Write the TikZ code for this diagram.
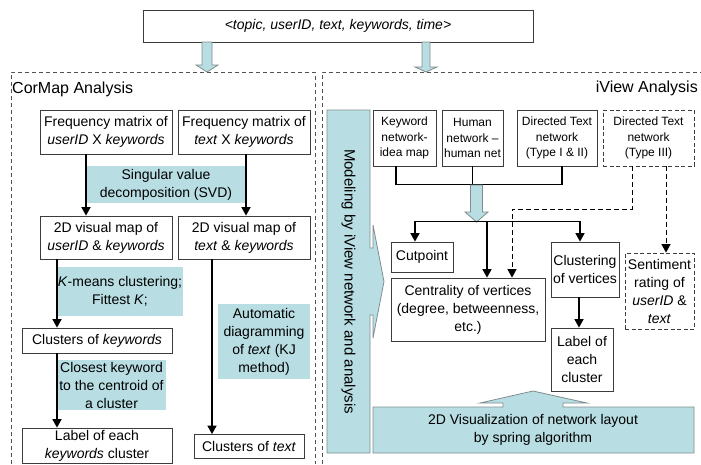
\documentclass[tikz,border=0pt]{standalone}
\usepackage{fontspec}
\setmainfont{Liberation Sans}
\usetikzlibrary{arrows.meta,calc}
\definecolor{teal1}{RGB}{184,222,227}
\definecolor{tealedge}{RGB}{128,140,142}
\definecolor{boxedge}{RGB}{60,60,60}
\definecolor{paneledge}{RGB}{80,80,80}
\newcommand\fsz[2]{\fontsize{#1}{#2}\selectfont}
\begin{document}
\begin{tikzpicture}[x=1pt,y=-1pt,
  box/.style={draw=boxedge, line width=0.8pt, fill=white, align=center, inner sep=0pt, font=\fsz{14}{18}},
  sbox/.style={box, font=\fsz{12}{15.5}},
  dbox/.style={draw=boxedge, line width=0.8pt, dash pattern=on 4pt off 2.5pt, fill=white, align=center, inner sep=0pt},
  lbl/.style={fill=teal1, align=center, inner sep=0pt, font=\fsz{14}{18}},
  conn/.style={line width=1.6pt, -{Triangle[length=8.5pt,width=9pt]}},
  bus/.style={line width=1.6pt},
  dconn/.style={line width=1pt, dash pattern=on 5pt off 3pt, -{Triangle[length=8.5pt,width=9pt]}},
  blk/.style={fill=teal1, draw=tealedge, line width=0.8pt, line join=miter},
  panel/.style={draw=paneledge, line width=0.8pt, dash pattern=on 4pt off 3pt}]
\useasboundingbox (0,0) rectangle (701,464);

% panels
\draw[panel] (11,464) -- (11,72) -- (315,72) -- (315,464);
\draw[panel] (322,464) -- (322,72) -- (703,72);
\node[anchor=west, inner sep=0pt, font=\fsz{16}{19}] (cmt) at (12,89) {CorMap Analysis};
\node[anchor=east, inner sep=0pt, font=\fsz{16}{19}] (ivt) at (698,88) {iView Analysis};

% top
\node[box, minimum width=390pt, minimum height=32pt, font=\itshape\fsz{14}{17}] (top) at (338,26) {<topic, userID, text, keywords, time>};
\draw[blk] (202,42) -- (212,42) -- (212,65) -- (218,65) -- (207,72) -- (196,65) -- (202,65) -- cycle;
\draw[blk] (422,42) -- (430,42) -- (430,67) -- (437,67) -- (426,72) -- (415,67) -- (422,67) -- cycle;

% left labels
\node[lbl, minimum width=158pt, minimum height=37pt] (svd) at (166,184.5) {Singular value\\decomposition (SVD)};
\node[lbl, minimum width=126pt, minimum height=49pt] (km) at (120,291.5) {\textit{K}-means clustering;\\Fittest \textit{K};};
\node[lbl, minimum width=109pt, minimum height=50pt] (cl) at (111.5,385) {Closest keyword\\to the centroid of\\a cluster};
\node[lbl, minimum width=92pt, minimum height=75pt] (au) at (264,341.5) {Automatic\\diagramming\\of \textit{text} (KJ\\method)};

% left boxes
\node[box, minimum width=132pt, minimum height=44pt] (A) at (106,132) {Frequency matrix of\\\textit{userID} X \textit{keywords}};
\node[box, minimum width=132pt, minimum height=44pt] (B) at (244,132) {Frequency matrix of\\\textit{text} X \textit{keywords}};
\node[box, minimum width=132pt, minimum height=43pt] (C) at (106,237.5) {2D visual map of\\\textit{userID} \& \textit{keywords}};
\node[box, minimum width=132pt, minimum height=43pt] (D) at (244,237.5) {2D visual map of\\\textit{text} \& \textit{keywords}};
\node[box, minimum width=150pt, minimum height=25pt] (E) at (97,340.5) {Clusters of \textit{keywords}};
\node[box, minimum width=150pt, minimum height=35pt] (F) at (97,445.5) {Label of each\\\textit{keywords} cluster};
\node[box, minimum width=110pt, minimum height=24pt] (G) at (249,446.5) {Clusters of \textit{text}};

\draw[conn] ($(A.south)+(-20,0)$) -- ($(C.north)+(-20,0)$);
\draw[conn] ($(B.south)+(2,0)$) -- ($(D.north)+(2,0)$);
\draw[conn] ($(C.south)+(-49,0)$) -- ($(E.north)+(-40,0)$);
\draw[conn] ($(E.south)+(-40,0)$) -- ($(F.north)+(-40,0)$);
\draw[conn] ($(D.south)+(-32,0)$) -- ($(G.north)+(-37,0)$);

% right callouts
\draw[blk] (327,110) -- (370,110) -- (370,248) -- (373,248) -- (373,225) -- (384,281.5) -- (373,338) -- (373,315) -- (370,315) -- (370,453) -- (327,453) -- cycle;
\node[rotate=-90, inner sep=0pt, font=\fsz{15}{18}] (mod) at (348.5,281.5) {Modeling by iView network and analysis};
\draw[blk] (373,453) -- (373,407) -- (503,407) -- (503,403) -- (480,403) -- (533,391) -- (587,403) -- (563,403) -- (563,407) -- (694,407) -- (694,453) -- cycle;
\node[align=center, inner sep=0pt, font=\fsz{14}{18}] (viz) at (533,430) {2D Visualization of network layout\\by spring algorithm};

% right boxes
\node[sbox, minimum width=63pt, minimum height=56pt] (kw) at (404.5,138) {Keyword\\network-\\idea map};
\node[sbox, minimum width=61pt, minimum height=56pt] (hu) at (472.5,138) {Human\\network –\\human net};
\node[sbox, minimum width=80pt, minimum height=56pt] (d12) at (557,138) {Directed Text\\network\\(Type I \& II)};
\node[dbox, font=\fsz{12}{15.5}, minimum width=91pt, minimum height=56pt] (d3) at (648.5,138) {Directed Text\\network\\(Type III)};
\node[box, minimum width=62pt, minimum height=30pt] (cut) at (422,257) {Cutpoint};
\node[box, minimum width=154pt, minimum height=63pt] (cen) at (468,309.5) {Centrality of vertices\\(degree, betweenness,\\etc.)};
\node[box, minimum width=68pt, minimum height=55pt] (clu) at (585,269.5) {Clustering\\of vertices};
\node[box, minimum width=62pt, minimum height=63pt] (lab) at (582,359.5) {Label of\\each\\cluster};
\node[dbox, font=\fsz{14}{18}, minimum width=69pt, minimum height=76pt] (sen) at (659.5,291) {Sentiment\\rating of\\\textit{userID} \&\\\textit{text}};

% upper bus
\draw[bus] ($(kw.south)+(-8.5,0)$) |- ($(d12.south)+(5,18)$) -- ($(d12.south)+(5,0)$);
\draw[bus] (hu.south) -- ($(hu.south)+(0,18)$);
\draw[blk] (470.5,185) -- (482.5,185) -- (482.5,212) -- (488,212) -- (476.5,222) -- (465,212) -- (470.5,212) -- cycle;

% lower bus
\draw[bus] ($(cut.north)+(-7,-20)$) -- ($(clu.north)+(-5,-20)$);
\draw[conn] ($(cut.north)+(-7,-20.8)$) -- ($(cut.north)+(-7,0)$);
\draw[conn] ($(cen.north)+(19,-56)$) -- ($(cen.north)+(19,0)$);
\draw[conn] ($(clu.north)+(-5,-20.8)$) -- ($(clu.north)+(-5,0)$);
\draw[conn] ($(clu.south)+(-6,0)$) -- ($(lab.north)+(-3,0)$);

% dashed
\draw[dconn] ($(d3.south)+(-16.5,0)$) |- ($(cen.north)+(44,-68)$) -- ($(cen.north)+(44,0)$);
\draw[dconn] ($(d3.south)+(17.5,0)$) -- ($(sen.north)+(6.5,0)$);
\end{tikzpicture}
\end{document}
